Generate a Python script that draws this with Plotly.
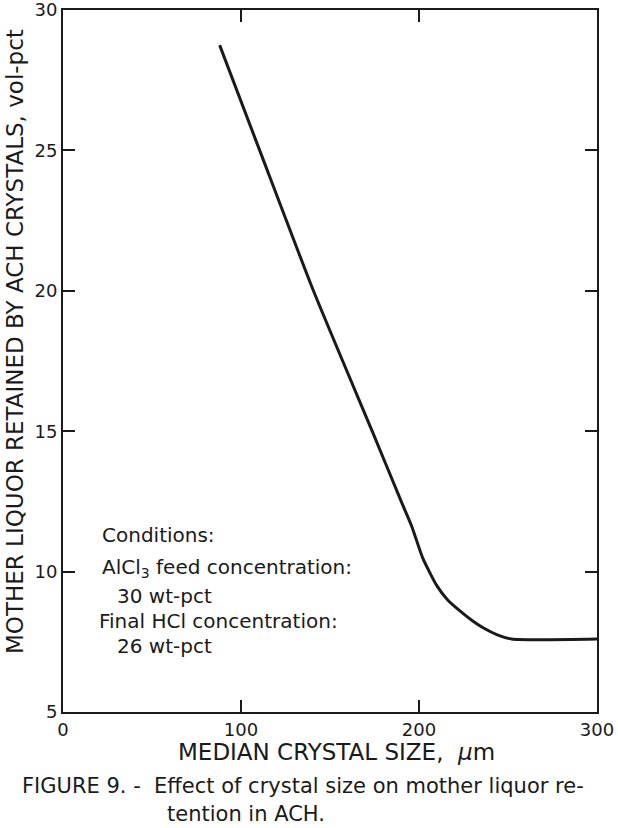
import plotly.graph_objects as go

# Datos (tamano de cristal vs licor retenido)
crystal_size = [88, 110.5, 140.7, 173.7, 190, 196, 202, 210, 216, 223, 230, 236, 244, 252, 300]
liquor_retained = [28.75, 25.0, 20.0, 15.0, 12.5, 11.6, 10.5, 9.5, 9.0, 8.6, 8.25, 8.0, 7.75, 7.6, 7.6]

x_ticks = [0, 100, 200, 300]
y_ticks = [5, 10, 15, 20, 25, 30]

FONT = "DejaVu Sans"
INK = "#1a1a1a"

# Area de trazado en pixeles de la pagina
L, R, T, B = 63, 597, 10, 712
W, H = 618, 828


def paper_x(px):
    return (px - L) / (R - L)


def paper_y(py):
    return (B - py) / (B - T)


fig = go.Figure()
fig.add_trace(
    go.Scatter(
        x=crystal_size,
        y=liquor_retained,
        mode="lines",
        line=dict(color=INK, width=3, shape="spline", smoothing=0.6),
        showlegend=False,
    )
)

fig.update_layout(
    width=W,
    height=H,
    plot_bgcolor="white",
    paper_bgcolor="white",
    font=dict(family=FONT, color=INK, size=18),
    margin=dict(l=L, r=W - R, t=T, b=H - B, autoexpand=False),
)

axis_style = dict(
    ticks="inside",
    ticklen=12,
    tickwidth=1.5,
    tickcolor=INK,
    showline=True,
    linecolor=INK,
    linewidth=2,
    mirror="ticks",
    showgrid=False,
    zeroline=False,
    automargin=False,
    ticklabeloverflow="allow",
    tickfont=dict(size=18),
)
fig.update_xaxes(
    range=[0, 300],
    tickvals=x_ticks,
    ticktext=[str(v) for v in x_ticks],
    **axis_style,
)
fig.update_yaxes(
    range=[5, 30],
    tickvals=y_ticks,
    ticktext=[str(v) for v in y_ticks],
    **axis_style,
)

# Titulos de ejes como anotaciones para controlar posicion
fig.add_annotation(
    text="MOTHER LIQUOR RETAINED BY ACH CRYSTALS, vol-pct",
    xref="paper", yref="paper", x=paper_x(15), y=paper_y(342),
    textangle=-90, showarrow=False,
    font=dict(size=23),
    xanchor="center", yanchor="middle",
)
fig.add_annotation(
    text="MEDIAN CRYSTAL SIZE,  <i>μ</i>m",
    xref="paper", yref="paper", x=paper_x(336), y=paper_y(752),
    showarrow=False, font=dict(size=23),
    xanchor="center", yanchor="middle",
)

# Condiciones
conditions = [
    ("Conditions:", 100, 535),
    ("AlCl<sub>3</sub> feed concentration:", 100, 568),
    ("30 wt-pct", 115, 596),
    ("Final HCl concentration:", 97, 621),
    ("26 wt-pct", 115, 646),
]
for txt, px_x, px_y in conditions:
    fig.add_annotation(
        text=txt,
        xref="paper", yref="paper",
        x=paper_x(px_x), y=paper_y(px_y),
        showarrow=False, xanchor="left", yanchor="middle",
        font=dict(size=20),
    )

# Pie de figura
fig.add_annotation(
    text="FIGURE 9. -  Effect of crystal size on mother liquor re-",
    xref="paper", yref="paper",
    x=paper_x(20), y=paper_y(786),
    showarrow=False, xanchor="left", yanchor="middle",
    font=dict(size=21),
)
fig.add_annotation(
    text="tention in ACH.",
    xref="paper", yref="paper",
    x=paper_x(165), y=paper_y(814),
    showarrow=False, xanchor="left", yanchor="middle",
    font=dict(size=21),
)

fig.write_html(
    "out.html",
    config={"displayModeBar": False},
    post_script="document.body.style.margin='0';",
)
